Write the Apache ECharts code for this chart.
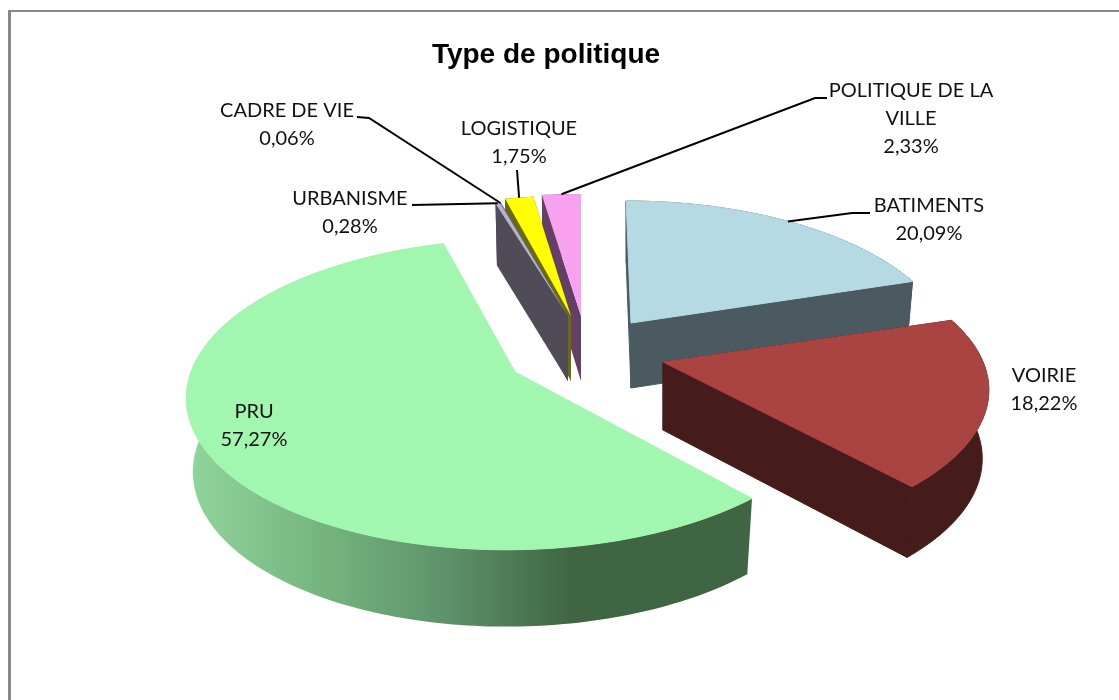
<!DOCTYPE html>
<html>
<head>
<meta charset="utf-8">
<title>Type de politique</title>
<style>
html, body { margin: 0; padding: 0; background: #fff; }
#chart { width: 1119px; height: 700px; }
</style>
<script src="https://cdn.jsdelivr.net/npm/echarts@6/dist/echarts.min.js"></script>
</head>
<body>
<div id="chart"></div>
<script>
var titleText = 'Type de politique';
var categories = ['BATIMENTS', 'VOIRIE', 'PRU', 'URBANISME', 'CADRE DE VIE', 'LOGISTIQUE', 'POLITIQUE DE LA VILLE'];
var values = [20.09, 18.22, 57.27, 0.28, 0.06, 1.75, 2.33];

// wrapped names, as they sit in the labels
var labelNames = ['BATIMENTS', 'VOIRIE', 'PRU', 'URBANISME', 'CADRE DE VIE', 'LOGISTIQUE', 'POLITIQUE DE LA\nVILLE'];

// 3D look of each exploded slice: apex, radius, perspective, lean, thickness
var sliceShapes = [
    {cx: 631, cy: 323, R: 314, A: 144.8, k: 0.187, lean: 0.04, depth: 65},
    {cx: 663, cy: 362, R: 320, A: 144.8, k: 0.187, lean: 0, depth: 68},
    {cx: 515, cy: 372, R: 324, A: 152, k: 0.145, lean: -0.05, depth: 73},
    {cx: 568, cy: 316, R: 312, A: 138, k: 0.187, lean: 0, depth: 65},
    {cx: 568, cy: 316, R: 312, A: 138, k: 0.187, lean: 0, depth: 65},
    {cx: 571, cy: 316, R: 307, A: 143, k: 0.187, lean: 0, depth: 65},
    {cx: 581, cy: 316, R: 318, A: 144.8, k: 0.187, lean: 0, depth: 65}
];
var paintOrder = [0, 1, 2, 6, 5, 4, 3];
var topColors = ['#b5dae3', '#a94442', '#a2f7b0', '#bdb1d3', '#4f8aa6', '#ffff00', '#f7a1f0'];
var wallColors = ['#4a5a60', '#451c1a', '#3f6543', '#4f4c58', '#2d5a60', '#6e6a0a', '#643f66'];

var labelCenters = [[929, 220], [1044, 390], [254, 426], [350, 213], [287, 125], [519, 143], [911, 119]];
// elbow of each leader line, null when the label has none
var leaderElbows = [
    [[870, 213], [852, 213]],
    null,
    null,
    [[412, 205]],
    [[357, 117], [369, 118]],
    [[517, 170]],
    [[827, 98], [815, 98]]
];

var total = values.reduce(function (a, b) { return a + b; }, 0);
var starts = [];
values.reduce(function (sum, v, i) {
    starts[i] = sum;
    return sum + v;
}, 0);

function toAngle(v) {
    return v / total * Math.PI * 2;
}

function topPoint(s, a) {
    var d = 1 + s.k * Math.cos(a);
    var dy = -s.A * Math.cos(a) / d;
    return [s.cx + s.R * Math.sin(a) / d + s.lean * dy, s.cy + dy];
}

function bottomPoint(s, a) {
    var p = topPoint(s, a);
    return [s.cx + (p[0] - s.cx) * 0.98, p[1] + s.depth / (1 + 0.05 * Math.cos(a))];
}

function arc(fn, s, a0, a1) {
    var n = Math.max(2, Math.ceil((a1 - a0) / 0.02));
    var pts = [];
    for (var j = 0; j <= n; j++) {
        pts.push(fn(s, a0 + (a1 - a0) * j / n));
    }
    return pts;
}

var pruWall = new echarts.graphic.LinearGradient(0, 0, 1, 0, [
    {offset: 0, color: '#90d69c'},
    {offset: 0.27, color: '#72b07c'},
    {offset: 0.45, color: '#5f946a'},
    {offset: 0.68, color: '#406543'},
    {offset: 1, color: '#406543'}
]);

function renderSlice(params, api) {
    var i = api.value(1);
    var s = sliceShapes[i];
    var a0 = toAngle(starts[i]);
    var a1 = toAngle(starts[i] + api.value(0));
    var z = paintOrder[i] * 10;
    var apexTop = [s.cx, s.cy];
    var apexBottom = [s.cx, s.cy + s.depth];
    var wall = wallColors[i];
    var big = i < 3;
    var children = [];

    function poly(points, fill, z2, stroke) {
        children.push({
            type: 'polygon',
            z2: z2,
            shape: {points: points},
            style: {fill: fill, stroke: stroke || null, lineWidth: stroke ? 1 : 0}
        });
    }

    // cut faces, the big PRU slice hides its own
    if (i !== 2) {
        poly([apexTop, topPoint(s, a0), bottomPoint(s, a0), apexBottom], wall, z, big ? wall : null);
        poly([apexTop, topPoint(s, a1), bottomPoint(s, a1), apexBottom], wall, z + 1, big ? wall : null);
    }
    // rim
    poly(arc(topPoint, s, a0, a1).concat(arc(bottomPoint, s, a0, a1).reverse()), i === 2 ? pruWall : wall, z + 2, i < 2 ? wall : null);
    // top face
    poly([apexTop].concat(arc(topPoint, s, a0, a1)), topColors[i], z + 3, big ? topColors[i] : null);

    // leader line goes to the middle of the slice rim
    if (leaderElbows[i]) {
        children.push({
            type: 'polyline',
            z2: 200,
            shape: {points: leaderElbows[i].concat([topPoint(s, (a0 + a1) / 2)])},
            style: {stroke: '#000', lineWidth: 2, fill: null}
        });
    }

    children.push({
        type: 'text',
        z2: 201,
        x: labelCenters[i][0],
        y: labelCenters[i][1],
        style: {
            text: labelNames[i] + '\n' + api.value(0).toFixed(2).replace('.', ',') + '%',
            fill: '#111',
            font: '20px Lato',
            lineHeight: 28,
            align: 'center',
            verticalAlign: 'middle'
        }
    });

    return {type: 'group', children: children};
}

var chart = echarts.init(document.getElementById('chart'));
chart.setOption({
    animation: false,
    backgroundColor: '#fff',
    title: {
        text: titleText,
        left: 541,
        top: 36,
        textAlign: 'center',
        textStyle: {fontFamily: 'Liberation Sans', fontWeight: 'bold', fontSize: 28, color: '#000'}
    },
    graphic: [
        {type: 'rect', shape: {x: 8, y: 10, width: 3, height: 690}, style: {fill: '#888'}},
        {type: 'rect', shape: {x: 8, y: 10, width: 1111, height: 2}, style: {fill: '#888'}}
    ],
    series: [{
        type: 'custom',
        coordinateSystem: 'none',
        renderItem: renderSlice,
        silent: true,
        data: categories.map(function (name, i) {
            return {name: name, value: [values[i], i]};
        })
    }]
});
</script>
</body>
</html>
